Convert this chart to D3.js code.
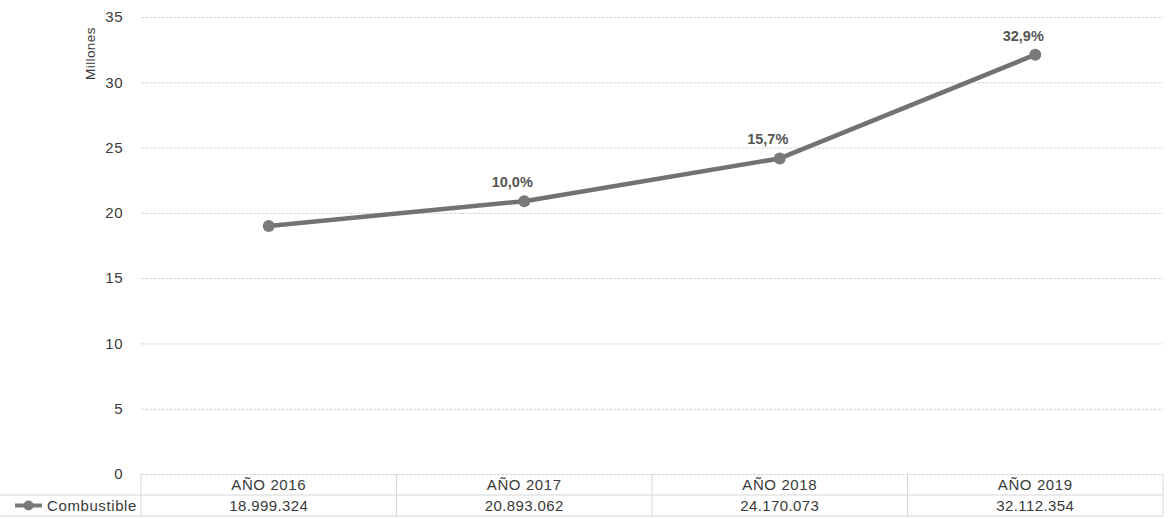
<!DOCTYPE html>
<html>
<head>
<meta charset="utf-8">
<script src="https://cdn.jsdelivr.net/npm/d3@7"></script>
<style>
  html, body { margin: 0; padding: 0; background: #fff; }
  svg { display: block; font-family: "Liberation Sans", Arial, sans-serif; }
</style>
</head>
<body>
<svg id="chart" width="1169" height="519"></svg>
<script>
// ---- data ----
const categories = ["AÑO 2016", "AÑO 2017", "AÑO 2018", "AÑO 2019"];
const seriesName = "Combustible";
const values = [18999324, 20893062, 24170073, 32112354];
const tableLabels = ["18.999.324", "20.893.062", "24.170.073", "32.112.354"];
const pointLabels = ["", "10,0%", "15,7%", "32,9%"];
const yTicks = [0, 5, 10, 15, 20, 25, 30, 35];
const yTitle = "Millones";

// ---- layout ----
const svg = d3.select("#chart");
const plotLeft = 141, plotRight = 1163, plotTop = 17, plotBottom = 474;
const rowH = 21;
const gridColor = "#d6d6d6";
const textColor = "#3a3a3a";

const x = d3.scaleBand().domain(categories).range([plotLeft, plotRight]);
const y = d3.scaleLinear().domain([0, 35]).range([plotBottom, plotTop]);

// gridlines + y labels
const yAxis = d3.axisLeft(y).tickValues(yTicks).tickSize(-(plotRight - plotLeft)).tickPadding(18).tickFormat(d3.format("d"));
const gy = svg.append("g").attr("transform", `translate(${plotLeft},0)`).call(yAxis);
gy.select(".domain").remove();
gy.selectAll(".tick line").attr("stroke", gridColor).attr("stroke-width", 1).attr("stroke-dasharray", "3,1");
gy.selectAll(".tick text").attr("fill", textColor).style("font-size", "15px").style("letter-spacing", "0.5px");

// y title
svg.append("text")
  .attr("transform", `translate(95,${y(32.2)}) rotate(-90)`)
  .attr("text-anchor", "middle")
  .attr("fill", textColor)
  .style("font-size", "13.5px")
  .style("letter-spacing", "0.4px")
  .text(yTitle);

// data table
const tableTop = y(0);
const tbl = svg.append("g");
tbl.append("line").attr("x1", 0).attr("x2", plotRight).attr("y1", tableTop + rowH).attr("y2", tableTop + rowH).attr("stroke", gridColor);
tbl.append("line").attr("x1", 0).attr("x2", plotRight).attr("y1", tableTop + 2 * rowH).attr("y2", tableTop + 2 * rowH).attr("stroke", gridColor);
const bounds = categories.map(c => x(c)).concat([plotRight]);
tbl.selectAll("line.v").data(bounds).enter().append("line")
  .attr("class", "v")
  .attr("x1", d => d).attr("x2", d => d)
  .attr("y1", tableTop).attr("y2", tableTop + 2 * rowH)
  .attr("stroke", gridColor);
tbl.selectAll("text.cat").data(categories).enter().append("text")
  .attr("class", "cat")
  .attr("x", d => x(d) + x.bandwidth() / 2)
  .attr("y", tableTop + rowH / 2 + 5.5)
  .attr("text-anchor", "middle")
  .attr("fill", textColor)
  .style("font-size", "15px")
  .style("letter-spacing", "0.6px")
  .text(d => d);
tbl.selectAll("text.val").data(tableLabels).enter().append("text")
  .attr("class", "val")
  .attr("x", (d, i) => x(categories[i]) + x.bandwidth() / 2)
  .attr("y", tableTop + rowH * 1.5 + 5.5)
  .attr("text-anchor", "middle")
  .attr("fill", textColor)
  .style("font-size", "15px")
  .style("letter-spacing", "0.4px")
  .text(d => d);

// legend in table
const legY = tableTop + rowH * 1.5;
tbl.append("line").attr("x1", 15).attr("x2", 42).attr("y1", legY).attr("y2", legY).attr("stroke", "#7a7a7a").attr("stroke-width", 4);
tbl.append("circle").attr("cx", 28.5).attr("cy", legY).attr("r", 5).attr("fill", "#7a7a7a");
tbl.append("text").attr("x", 137).attr("y", legY + 5.5).attr("text-anchor", "end")
  .attr("fill", textColor).style("font-size", "15px").style("letter-spacing", "0.6px").text(seriesName);

// line
const pts = values.map((v, i) => ({ c: categories[i], v: v / 1e6, lab: pointLabels[i] }));
const line = d3.line().x(d => x(d.c) + x.bandwidth() / 2).y(d => y(d.v));
svg.append("path").datum(pts)
  .attr("d", line)
  .attr("fill", "none")
  .attr("stroke", "#727272")
  .attr("stroke-width", 4.5)
  .attr("stroke-linejoin", "round");
svg.selectAll("circle.pt").data(pts).enter().append("circle")
  .attr("class", "pt")
  .attr("cx", d => x(d.c) + x.bandwidth() / 2)
  .attr("cy", d => y(d.v))
  .attr("r", 6)
  .attr("fill", "#7a7a7a");
svg.selectAll("text.pl").data(pts).enter().append("text")
  .attr("class", "pl")
  .attr("x", d => x(d.c) + x.bandwidth() / 2 - 12)
  .attr("y", d => y(d.v) - 14)
  .attr("text-anchor", "middle")
  .attr("fill", "#555")
  .style("font-size", "14.5px")
  .style("font-weight", "bold")
  .text(d => d.lab);
</script>
</body>
</html>
